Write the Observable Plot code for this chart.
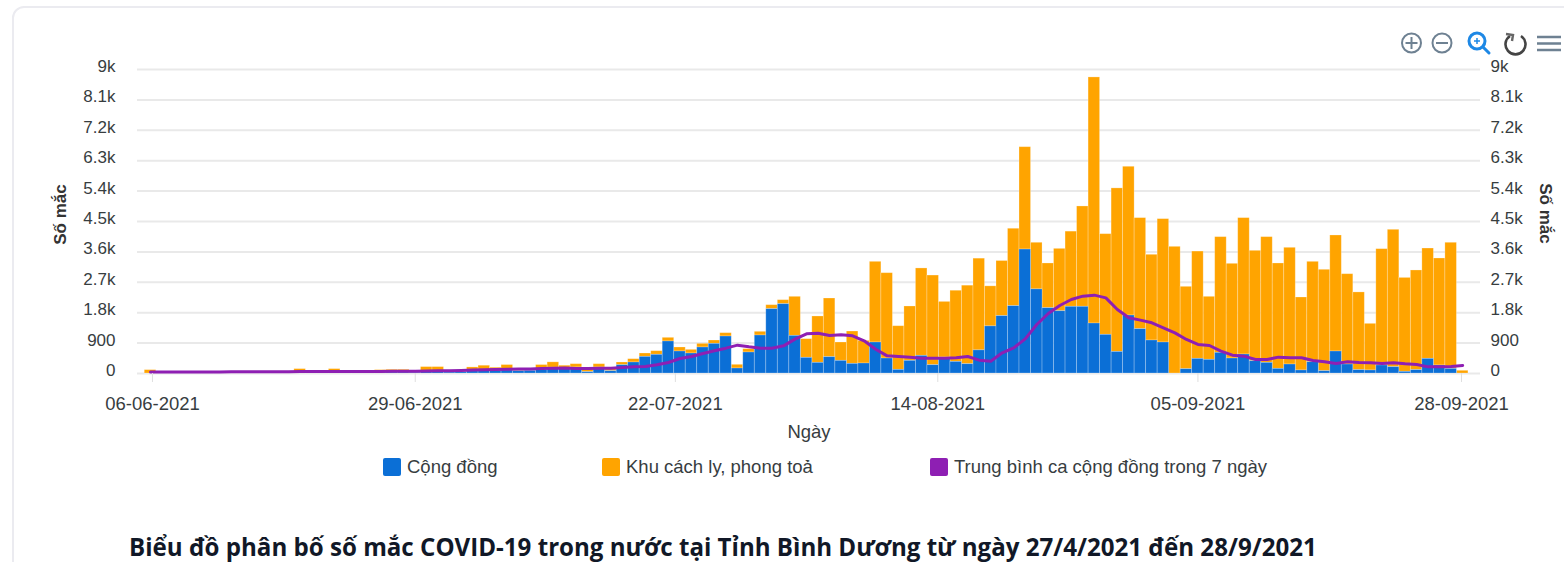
<!DOCTYPE html>
<html lang="vi">
<head>
<meta charset="utf-8">
<script src="https://cdn.jsdelivr.net/npm/d3@7"></script>
<script src="https://cdn.jsdelivr.net/npm/@observablehq/plot@0.6"></script>
<style>
  html, body { margin: 0; padding: 0; background: #fff; overflow: hidden; }
  #page { position: relative; width: 1564px; height: 562px; overflow: hidden; font-family: "Liberation Sans", Arial, sans-serif; }
  #card { position: absolute; left: 12px; top: 6px; width: 1600px; height: 700px; box-sizing: border-box; border: 2px solid #ebebf0; border-radius: 12px; }
  #chart { position: absolute; left: 0; top: 0; }
  #chart svg { display: block; background: transparent; }
  .lg { position: absolute; top: 458px; display: flex; align-items: center; font-size: 18.5px; color: #373d3f; white-space: nowrap; height: 18px; }
  .lg i { display: block; width: 18px; height: 18px; border-radius: 2px; margin-right: 6px; flex: none; }
  #title { position: absolute; left: 129px; top: 530px; font: 700 24.12px "Open Sans", "Noto Sans", sans-serif; color: #111827; white-space: nowrap; }
  #tools { position: absolute; left: 1395px; top: 25px; }
</style>
</head>
<body>
<div id="page">
  <div id="card"></div>
  <div id="chart"></div>
  <svg id="tools" width="169" height="36" viewBox="1395 25 169 36" fill="none">
    <g stroke="#6e8192" stroke-width="2">
      <circle cx="1411.5" cy="43" r="9.5"/><path d="M1405.5 43h12M1411.5 37v12"/>
      <circle cx="1442" cy="43" r="9.5"/><path d="M1436 43h12"/>
    </g>
    <g stroke="#1e88e5" stroke-width="3">
      <circle cx="1477" cy="41" r="8"/><path d="M1483 47l6 6" stroke-linecap="round"/>
      <path d="M1474 41h6M1477 38v6" stroke-width="1.5"/>
    </g>
    <path d="M1510 36a10 10 0 1 0 11 0" stroke="#444" stroke-width="2.6"/>
    <path d="M1506 34l7 1-1 6" stroke="#666" stroke-width="2.4"/>
    <path d="M1537 37h24M1537 43.5h24M1537 50h24" stroke="#6e8192" stroke-width="2.4"/>
  </svg>
  <div class="lg" style="left:383px"><i style="background:#0b6fd6"></i><span>Cộng đồng</span></div>
  <div class="lg" style="left:602px"><i style="background:#ffa400"></i><span>Khu cách ly, phong toả</span></div>
  <div class="lg" style="left:930px"><i style="background:#8e1fb3"></i><span>Trung bình ca cộng đồng trong 7 ngày</span></div>
  <div id="title">Biểu đồ phân bố số mắc COVID-19 trong nước tại Tỉnh Bình Dương từ ngày 27/4/2021 đến 28/9/2021</div>
</div>
<script>
const dailyTotal = [100,40,35,30,35,40,30,40,45,40,50,55,60,130,70,80,130,70,60,60,
  100,110,110,40,190,190,50,60,180,230,170,250,100,130,250,330,230,276,
  148,276,128,326,424,592,661,1056,770,700,878,977,1194,257,720,1234,2023,2171,2270,
  1017,1688,2220,918,1243,967,3306,2970,1400,1984,3110,2900,2120,2450,2600,3400,2580,
  3330,4285,6700,3870,3257,3690,4200,4945,8765,4125,5480,6120,4600,3514,4570,3750,2566,
  3610,2270,4037,3247,4600,3632,4037,3257,3721,2250,3306,3070,4086,2940,2400,1470,3681,
  4254,2830,3050,3700,3405,3870,80];
const community = [0,10,10,10,10,10,10,15,15,15,20,20,20,25,25,25,30,30,25,20,
  25,30,30,25,60,60,30,40,70,80,80,90,70,80,110,170,130,178,
  40,178,69,247,326,493,553,948,651,592,770,878,1095,148,622,1125,1905,2053,1115,
  464,316,484,375,286,296,918,444,108,375,523,247,474,345,276,685,1395,
  1700,1995,3670,2490,1935,1845,1975,1975,1480,1145,640,1717,1313,977,918,0,128,
  434,405,612,444,562,365,316,138,266,90,335,70,651,266,100,90,237,
  188,50,100,434,237,138,0];
const average7 = [45,45,46,46,47,48,48,50,50,52,52,55,55,58,60,60,62,62,60,60,
  62,65,68,68,75,80,82,90,100,110,118,125,130,135,145,155,160,150,
  148,158,158,178,197,207,257,326,444,503,592,671,750,839,790,750,750,819,1017,
  1175,1194,1125,1145,1115,967,720,523,503,484,454,454,454,464,503,395,365,
  612,760,1026,1450,1776,2013,2190,2290,2320,2240,1895,1648,1580,1500,1352,1204,1007,
  859,829,661,543,513,415,415,484,464,464,385,345,296,345,325,316,296,
  316,286,266,197,197,207,237];
const yTicks = [0,900,1800,2700,3600,4500,5400,6300,7200,8100,9000];
const xTickDays = [0.17,23,45.6,68.4,91,113.9];
const xTickLabels = ["06-06-2021","29-06-2021","22-07-2021","14-08-2021","05-09-2021","28-09-2021"];
const seriesColors = {community:"#0b6fd6", quarantine:"#ffa400", average:"#8e1fb3"};

const rows = dailyTotal.map((total,i)=>({i,total,community:community[i],average:average7[i]}));
const kFormat = v => v >= 1000 ? (v/1000)+"k" : String(v);
const tickLabel = new Map(xTickDays.map((d,k)=>[d,xTickLabels[k]]));

const chart = Plot.plot({
  width:1564, height:445,
  marginLeft:137, marginRight:84, marginTop:69, marginBottom:72,
  style:{fontFamily:'"Liberation Sans", Arial, sans-serif', background:"transparent"},
  x:{type:"linear", domain:[-1.13,115.55]},
  y:{domain:[0,9000]},
  marks:[
    Plot.ruleY(yTicks,{stroke:"#e9e9e9",strokeWidth:2}),
    Plot.rectY(rows,{x1:d=>d.i-0.5,x2:d=>d.i+0.5,y1:d=>d.community,y2:"total",fill:seriesColors.quarantine,stroke:"#fff",strokeOpacity:0.3,strokeWidth:0.8}),
    Plot.rectY(rows,{x1:d=>d.i-0.5,x2:d=>d.i+0.5,y1:0,y2:"community",fill:seriesColors.community,stroke:"#fff",strokeOpacity:0.3,strokeWidth:0.8}),
    Plot.line(rows,{x:"i",y:"average",stroke:seriesColors.average,strokeWidth:3}),
    Plot.axisX({ticks:xTickDays,tickFormat:d=>tickLabel.get(d),tickSize:9,stroke:"#dfdfdf",tickPadding:14,label:"Ngày",labelAnchor:"center",labelArrow:"none",labelOffset:64,fontSize:18.5,fill:"#373d3f"}),
    Plot.axisY({anchor:"left",ticks:yTicks,tickFormat:kFormat,tickSize:0,tickPadding:22,label:null,dy:-3,fontSize:17,fill:"#373d3f"}),
    Plot.axisY({anchor:"right",ticks:yTicks,tickFormat:kFormat,tickSize:0,tickPadding:10,label:null,dy:-3,fontSize:17,fill:"#373d3f"}),
    Plot.text(["Số mắc"],{frameAnchor:"left",textAnchor:"middle",dx:-77,dy:-7,rotate:-90,fontSize:17,fontWeight:"bold",fill:"#333"}),
    Plot.text(["Số mắc"],{frameAnchor:"right",textAnchor:"middle",dx:65,dy:-8,rotate:90,fontSize:17,fontWeight:"bold",fill:"#333"})
  ]
});
document.getElementById("chart").append(chart);
</script>
</body>
</html>
